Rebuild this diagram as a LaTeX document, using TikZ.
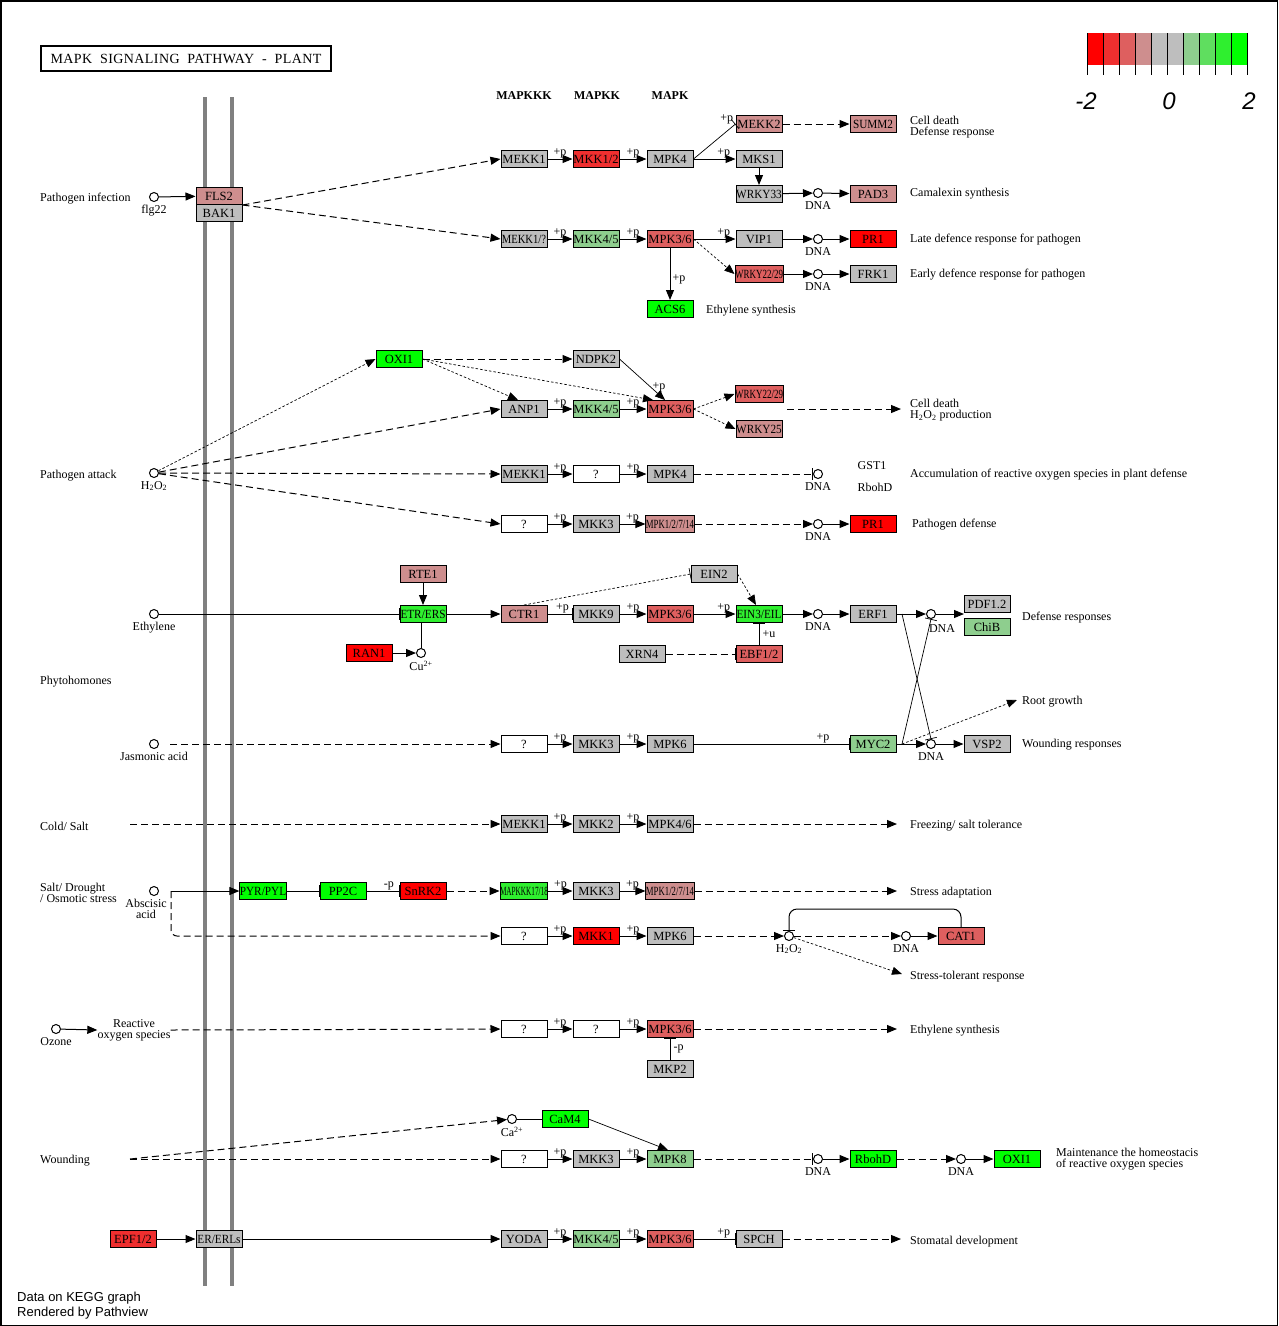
\documentclass[tikz,border=0pt]{standalone}
\usepackage{fontspec}
\usepackage{graphicx}
\setmainfont{Liberation Serif}
\newfontfamily\sansfont{Liberation Sans}
\newfontfamily\titlefont[LetterSpace=3,WordSpace=2]{Liberation Serif}
\usetikzlibrary{arrows.meta}
\definecolor{dnA}{RGB}{255,0,0}
\definecolor{dnB}{RGB}{239,47,47}
\definecolor{dnC}{RGB}{222,95,95}
\definecolor{dnD}{RGB}{206,142,142}
\definecolor{mid}{RGB}{190,190,190}
\definecolor{upD}{RGB}{142,206,142}
\definecolor{upC}{RGB}{95,222,95}
\definecolor{upB}{RGB}{47,239,47}
\definecolor{upA}{RGB}{0,255,0}
\definecolor{membrane}{RGB}{128,128,128}
\newcommand{\narrow}[2]{\scalebox{#1}[1]{#2}}
\newcommand{\hto}{H\textsubscript{2}O\textsubscript{2}}

\begin{document}
\begin{tikzpicture}[x=1pt,y=-1pt,
  every node/.style={font=\fontsize{12}{11}\selectfont, inner sep=0pt},
  gene/.style={draw, line width=1pt, fill=#1, minimum width=46, minimum height=17, font=\fontsize{12.5}{12}\selectfont},
  gene/.default=mid,
  cpd/.style={draw, line width=1pt, circle, fill=white, minimum size=9},
  dnalab/.style={label={[label distance=3pt]below:DNA}},
  txt/.style={anchor=west, align=left},
  plab/.style={above, pos=0.5},
  act/.style={line width=1pt, -{Triangle[length=10pt,width=8pt]}},
  inh/.style={line width=1pt, -{Bar[width=12pt]}},
  ind/.style={dash pattern=on 7pt off 4pt},
  fine/.style={dash pattern=on 2.5pt off 2pt, line width=0.7pt},
]
\useasboundingbox (0,0) rectangle (1278,1326);
\draw[line width=1.5pt] (0.75,0.75) rectangle (1277.25,1325.25);
\draw[membrane, line width=4pt] (205,97) -- (205,1286);
\draw[membrane, line width=4pt] (232,97) -- (232,1286);

\node[draw, line width=1.8pt, minimum width=290, minimum height=25, font=\titlefont\fontsize{14}{14}\selectfont] (title) at (186,58.5) {MAPK SIGNALING PATHWAY - PLANT};
\foreach \c [count=\i from 0] in {dnA,dnB,dnC,dnD,mid,mid,upD,upC,upB,upA}
  \fill[\c] (1087+16*\i,33) rectangle ++(16,32);
\foreach \i in {0,...,10}
  \draw[line width=1pt] (1087+16*\i,33) -- ++(0,42);
\node[font=\sansfont\itshape\fontsize{24}{24}\selectfont] (legmin) at (1086,101) {-2};
\node[font=\sansfont\itshape\fontsize{24}{24}\selectfont] (legmid) at (1169,101) {0};
\node[font=\sansfont\itshape\fontsize{24}{24}\selectfont] (legmax) at (1249,101) {2};

\node[font=\bfseries\fontsize{12}{12}\selectfont] (hkkk) at (524,96) {MAPKKK};
\node[font=\bfseries\fontsize{12}{12}\selectfont] (hkk) at (597,96) {MAPKK};
\node[font=\bfseries\fontsize{12}{12}\selectfont] (hk) at (670,96) {MAPK};

\node[txt] (pinf) at (40,199) {Pathogen infection};
\node[cpd, label={[label distance=3pt]below:flg22}] (flg) at (154,197) {};
\node[gene=dnD] (fls2) at (219,196) {FLS2};
\node[gene] (bak1) at (219,213) {BAK1};
\node[gene] (mekk1a) at (524,159) {MEKK1};
\node[gene=dnB] (mkk12) at (596,159) {MKK1/2};
\node[gene] (mpk4a) at (670,159) {MPK4};
\node[gene=dnD] (mekk2) at (759,124) {MEKK2};
\node[gene] (mks1) at (759,159) {MKS1};
\node[gene=dnD] (summ2) at (873,124) {\narrow{0.9}{SUMM2}};
\node[gene] (wrky33) at (759,194) {\narrow{0.9}{WRKY33}};
\node[cpd, dnalab] (dna1) at (818,193) {};
\node[gene=dnD] (pad3) at (873,194) {PAD3};
\node[gene] (mekk1b) at (524,239) {\narrow{0.85}{MEKK1/?}};
\node[gene=upD] (mkk45a) at (596,239) {MKK4/5};
\node[gene=dnC] (mpk36a) at (670,239) {MPK3/6};
\node[gene] (vip1) at (759,239) {VIP1};
\node[cpd, dnalab] (dna2) at (818,239) {};
\node[gene=dnA] (pr1a) at (873,239) {PR1};
\node[gene=dnC] (wrkyA) at (759,274) {\narrow{0.72}{WRKY22/29}};
\node[cpd, dnalab] (dna3) at (818,274) {};
\node[gene] (frk1) at (873,274) {FRK1};
\node[gene=upA] (acs6) at (670,309) {ACS6};
\node[txt] (celldeathA) at (910,127) {Cell death\\Defense response};
\node[txt] (camalexin) at (910,194) {Camalexin synthesis};
\node[txt] (latedef) at (910,240) {Late defence response for pathogen};
\node[txt] (earlydef) at (910,275) {Early defence response for pathogen};
\node[txt] (ethsynA) at (706,311) {Ethylene synthesis};

\node[txt] (patt) at (40,476) {Pathogen attack};
\node[cpd, label={[label distance=3pt]below:\hto}] (h2o2a) at (154,473) {};
\node[gene=upA] (oxi1a) at (399,359) {OXI1};
\node[gene] (ndpk2) at (596,359) {NDPK2};
\node[gene] (anp1) at (524,409) {ANP1};
\node[gene=upD] (mkk45b) at (596,409) {MKK4/5};
\node[gene=dnC] (mpk36b) at (670,409) {MPK3/6};
\node[gene=dnC] (wrkyB) at (759,394) {\narrow{0.72}{WRKY22/29}};
\node[gene=dnD] (wrky25) at (759,429) {\narrow{0.9}{WRKY25}};
\coordinate (cdA) at (787,409);
\coordinate (cdB) at (901,409);
\node[txt] (celldeathB) at (910,410) {Cell death\\\hto{} production};
\node[gene] (mekk1c) at (524,474) {MEKK1};
\node[gene=white] (qa) at (596,474) {?};
\node[gene] (mpk4b) at (670,474) {MPK4};
\node[cpd, dnalab] (dna4) at (818,474) {};
\node (gst1) at (872,466) {GST1};
\node (rbohdA) at (875,487) {RbohD};
\node[txt] (accum) at (910,475) {Accumulation of reactive oxygen species in plant defense};
\node[gene=white] (qb) at (524,524) {?};
\node[gene] (mkk3a) at (596,524) {MKK3};
\node[gene=dnD] (mpkA) at (670,524) {\narrow{0.7}{MPK1/2/7/14}};
\node[cpd, dnalab] (dna5) at (818,524) {};
\node[gene=dnA] (pr1b) at (873,524) {PR1};
\node[txt] (pdef) at (912,525) {Pathogen defense};

\node[cpd, label={[label distance=3pt]below:Ethylene}] (eth) at (154,614) {};
\node[gene=dnD] (rte1) at (423,574) {RTE1};
\node[gene=upB] (etr) at (423,614) {\narrow{0.9}{ETR/ERS}};
\node[gene=dnA] (ran1) at (369,653) {RAN1};
\node[cpd, label={[label distance=3pt]below:Cu\textsuperscript{2+}}] (cu) at (421,653) {};
\node[gene=dnD] (ctr1) at (524,614) {CTR1};
\node[gene] (mkk9) at (596,614) {MKK9};
\node[gene=dnC] (mpk36c) at (670,614) {MPK3/6};
\node[gene] (ein2) at (714,574) {EIN2};
\node[gene=upB] (ein3) at (759,614) {\narrow{0.9}{EIN3/EIL}};
\node[gene] (xrn4) at (642,654) {XRN4};
\node[gene=dnC] (ebf) at (759,654) {EBF1/2};
\node[cpd, dnalab] (dna6) at (818,614) {};
\node[gene] (erf1) at (873,614) {ERF1};
\coordinate (erfout) at (902,614);
\node[cpd] (dna7) at (931,614) {};
\node (dna7lab) at (942,629) {DNA};
\coordinate (pdfchib) at (964,614);
\node[gene] (pdf) at (987,604) {PDF1.2};
\node[gene=upD] (chib) at (987,627) {ChiB};
\node[txt] (defresp) at (1022,618) {Defense responses};
\node[txt] (phyto) at (40,682) {Phytohomones};

\node[cpd, label={[label distance=3pt]below:Jasmonic acid}] (ja) at (154,744) {};
\coordinate (jaout) at (170,744);
\node[gene=white] (qc) at (524,744) {?};
\node[gene] (mkk3b) at (596,744) {MKK3};
\node[gene] (mpk6a) at (670,744) {MPK6};
\node[gene=upD] (myc2) at (873,744) {MYC2};
\coordinate (mycout) at (902,744);
\node[cpd, dnalab] (dna8) at (931,744) {};
\node[gene] (vsp2) at (987,744) {VSP2};
\coordinate (rg) at (1017,700);
\node[txt] (rootg) at (1022,702) {Root growth};
\node[txt] (woundr) at (1022,745) {Wounding responses};

\node[txt] (cold) at (40,826) {Cold/ Salt};
\coordinate (coldout) at (130,824);
\node[gene] (mekk1d) at (524,824) {MEKK1};
\node[gene] (mkk2) at (596,824) {MKK2};
\node[gene] (mpk46) at (670,824) {MPK4/6};
\coordinate (frz) at (897,824);
\node[txt] (freeze) at (910,826) {Freezing/ salt tolerance};

\node[txt] (salt) at (40,893) {Salt/ Drought\\/ Osmotic stress};
\node[cpd, label={[label distance=3pt, xshift=-8pt, align=center]below:{Abscisic\\acid}}] (aba) at (154,891) {};
\coordinate (abaout) at (171,891);
\node[gene=upA] (pyr) at (263,891) {\narrow{0.9}{PYR/PYL}};
\node[gene=upA] (pp2c) at (343,891) {PP2C};
\node[gene=dnA] (snrk2) at (423,891) {SnRK2};
\node[gene=upB] (mapkkk) at (524,891) {\narrow{0.58}{MAPKKK17/18}};
\node[gene] (mkk3c) at (596,891) {MKK3};
\node[gene=dnD] (mpkB) at (670,891) {\narrow{0.7}{MPK1/2/7/14}};
\coordinate (sa) at (897,891);
\node[txt] (stradapt) at (910,893) {Stress adaptation};
\node[gene=white] (qd) at (524,936) {?};
\node[gene=dnA] (mkk1) at (596,936) {MKK1};
\node[gene] (mpk6b) at (670,936) {MPK6};
\node[cpd, label={[label distance=3pt]below:\hto}] (h2o2b) at (789,936) {};
\node[cpd, dnalab] (dna9) at (906,936) {};
\node[gene=dnC] (cat1) at (961,936) {CAT1};
\coordinate (str) at (902,974);
\node[txt] (strtol) at (910,977) {Stress-tolerant response};

\node[cpd, label={[label distance=3pt]below:Ozone}] (ozone) at (56,1029) {};
\node[align=center] (ros) at (134,1030) {Reactive\\oxygen species};
\node[gene=white] (qe) at (524,1029) {?};
\node[gene=white] (qf) at (596,1029) {?};
\node[gene=dnC] (mpk36d) at (670,1029) {MPK3/6};
\node[gene] (mkp2) at (670,1069) {MKP2};
\coordinate (es) at (897,1029);
\node[txt] (ethsynB) at (910,1031) {Ethylene synthesis};

\node[txt] (wound) at (40,1161) {Wounding};
\coordinate (woundout) at (130,1159);
\node[cpd, label={[label distance=3pt]below:Ca\textsuperscript{2+}}] (ca) at (512,1119) {};
\node[gene=upA] (cam4) at (565,1119) {CaM4};
\node[gene=white] (qg) at (524,1159) {?};
\node[gene] (mkk3d) at (596,1159) {MKK3};
\node[gene=upD] (mpk8) at (670,1159) {MPK8};
\node[cpd, dnalab] (dna10) at (818,1159) {};
\node[gene=upA] (rbohdB) at (873,1159) {RbohD};
\node[cpd, dnalab] (dna11) at (961,1159) {};
\node[gene=upA] (oxi1b) at (1017,1159) {OXI1};
\node[txt] (homeo) at (1056,1159) {Maintenance the homeostacis\\of reactive oxygen species};

\node[gene=dnB] (epf) at (133,1239) {EPF1/2};
\node[gene] (erl) at (219,1239) {\narrow{0.9}{ER/ERLs}};
\node[gene] (yoda) at (524,1239) {YODA};
\node[gene=upD] (mkk45c) at (596,1239) {MKK4/5};
\node[gene=dnC] (mpk36e) at (670,1239) {MPK3/6};
\node[gene] (spch) at (759,1239) {SPCH};
\coordinate (sd) at (901,1239);
\node[txt] (stomatal) at (910,1242) {Stomatal development};

\node[txt, font=\sansfont\fontsize{13}{15}\selectfont] (credit) at (17,1306) {Data on KEGG graph\\Rendered by Pathview};

\draw[act] (flg) -- (fls2);
\draw[act, ind] (fls2.south east) -- (mekk1a.west);
\draw[act, ind] (fls2.south east) -- (mekk1b.west);
\draw[act] (mekk1a) -- node[plab]{+p} (mkk12);
\draw[act] (mkk12) -- node[plab]{+p} (mpk4a);
\draw[act] (mpk4a) -- node[plab, pos=0.72]{+p} (mks1);
\draw[inh, line width=0.7pt] (mpk4a.east) -- node[pos=1, anchor=south east, xshift=-2pt]{+p} (mekk2.west);
\draw[act, ind] (mekk2) -- (summ2);
\draw[act] (mks1) -- (wrky33);
\draw[act] (wrky33) -- (dna1);
\draw[act] (dna1) -- (pad3);
\draw[act] (mekk1b) -- node[plab]{+p} (mkk45a);
\draw[act] (mkk45a) -- node[plab]{+p} (mpk36a);
\draw[act] (mpk36a) -- node[plab, pos=0.72]{+p} (vip1);
\draw[act, fine] (mpk36a.east) -- (wrkyA.west);
\draw[act] (mpk36a) -- node[right=2pt, pos=0.6]{+p} (acs6);
\draw[act] (vip1) -- (dna2);
\draw[act] (dna2) -- (pr1a);
\draw[act] (wrkyA) -- (dna3);
\draw[act] (dna3) -- (frk1);

\draw[act, fine] (h2o2a) -- (oxi1a.west);
\draw[act, ind] (h2o2a) -- (anp1.west);
\draw[act, ind] (h2o2a) -- (mekk1c.west);
\draw[act, ind] (h2o2a) -- (qb.west);
\draw[act, ind] (oxi1a) -- (ndpk2);
\draw[act, fine] (oxi1a.east) -- ([xshift=-6pt]anp1.north);
\draw[act, fine] (oxi1a.east) -- ([xshift=-17pt]mpk36b.north);
\draw[act, line width=0.7pt] (ndpk2.east) -- node[pos=0.7, right=1pt]{+p} ([xshift=-5pt]mpk36b.north);
\draw[act] (anp1) -- node[plab]{+p} (mkk45b);
\draw[act] (mkk45b) -- node[plab]{+p} (mpk36b);
\draw[act, fine] (mpk36b.east) -- (wrkyB.west);
\draw[act, fine] (mpk36b.east) -- (wrky25.west);
\draw[act, ind] (cdA) -- (cdB);
\draw[act] (mekk1c) -- node[plab]{+p} (qa);
\draw[act] (qa) -- node[plab]{+p} (mpk4b);
\draw[inh, ind] (mpk4b) -- (dna4);
\draw[act] (qb) -- node[plab]{+p} (mkk3a);
\draw[act] (mkk3a) -- node[plab]{+p} (mpkA);
\draw[act, ind] (mpkA) -- (dna5);
\draw[act] (dna5) -- (pr1b);

\draw[inh] (eth) -- (etr);
\draw[act] (rte1) -- (etr);
\draw[line width=1pt] (cu |- etr.south) -- (cu);
\draw[act] (ran1) -- (cu);
\draw[act] (etr) -- (ctr1);
\draw[inh] (ctr1) -- node[plab, pos=0.6]{+p} (mkk9);
\draw[act] (mkk9) -- node[plab]{+p} (mpk36c);
\draw[act] (mpk36c) -- node[plab, pos=0.72]{+p} (ein3);
\draw[inh, fine] (ctr1.north) -- (ein2.west);
\draw[act, fine] (ein2.east) -- ([xshift=-3pt]ein3.north);
\draw[inh, ind] (xrn4) -- (ebf);
\draw[inh] (ebf) -- node[right=3pt]{+u} (ein3);
\draw[act] (ein3) -- (dna6);
\draw[act] (dna6) -- (erf1);
\draw[line width=1pt] (erf1) -- (erfout);
\draw[act] (erfout) -- (dna7);
\draw[act] (dna7) -- (pdfchib);
\draw[inh, line width=0.7pt] (erfout) -- (dna8.north);
\draw[inh, line width=0.7pt] (mycout) -- (dna7.south);

\draw[act, ind] (jaout) -- (qc);
\draw[act] (qc) -- node[plab]{+p} (mkk3b);
\draw[act] (mkk3b) -- node[plab]{+p} (mpk6a);
\draw[inh] (mpk6a) -- node[plab, pos=0.83]{+p} (myc2);
\draw[line width=1pt] (myc2) -- (mycout);
\draw[act] (mycout) -- (dna8);
\draw[act] (dna8) -- (vsp2);
\draw[act, fine] (mycout) -- (rg);

\draw[act, ind] (coldout) -- (mekk1d);
\draw[act] (mekk1d) -- node[plab]{+p} (mkk2);
\draw[act] (mkk2) -- node[plab]{+p} (mpk46);
\draw[act, ind] (mpk46) -- (frz);

\draw[act] (abaout) -- (pyr);
\draw[act, ind, rounded corners=6pt] (abaout) |- (qd.west);
\draw[inh] (pyr) -- (pp2c);
\draw[inh] (pp2c) -- node[plab, pos=0.68]{-p} (snrk2);
\draw[act, ind] (snrk2) -- (mapkkk);
\draw[act] (mapkkk) -- node[plab]{+p} (mkk3c);
\draw[act] (mkk3c) -- node[plab]{+p} (mpkB);
\draw[act, ind] (mpkB) -- (sa);
\draw[act] (qd) -- node[plab]{+p} (mkk1);
\draw[act] (mkk1) -- node[plab]{+p} (mpk6b);
\draw[act, ind] (mpk6b) -- (h2o2b);
\draw[act, ind] (h2o2b) -- (dna9);
\draw[act] (dna9) -- (cat1);
\draw[inh, rounded corners=8pt] (cat1.north) -- ++(0,-18) -| (h2o2b.north);
\draw[act, fine] (h2o2b) -- (str);

\draw[act] (ozone) -- (ros.west);
\draw[act, ind] (ros.east) -- (qe);
\draw[act] (qe) -- node[plab]{+p} (qf);
\draw[act] (qf) -- node[plab]{+p} (mpk36d);
\draw[act, ind] (mpk36d) -- (es);
\draw[inh] (mkp2) -- node[right=3pt]{-p} (mpk36d);

\draw[act, ind] (woundout) -- (ca);
\draw[act, ind] (woundout) -- (qg);
\draw[line width=1pt] (ca) -- (cam4);
\draw[act, line width=0.7pt] (cam4.east) -- ([xshift=-2pt]mpk8.north);
\draw[act] (qg) -- node[plab]{+p} (mkk3d);
\draw[act] (mkk3d) -- node[plab]{+p} (mpk8);
\draw[inh, ind] (mpk8) -- (dna10);
\draw[act] (dna10) -- (rbohdB);
\draw[act, ind] (rbohdB) -- (dna11);
\draw[act] (dna11) -- (oxi1b);

\draw[act] (epf) -- (erl);
\draw[act] (erl) -- (yoda);
\draw[act] (yoda) -- node[plab]{+p} (mkk45c);
\draw[act] (mkk45c) -- node[plab]{+p} (mpk36e);
\draw[inh] (mpk36e) -- node[plab, pos=0.72]{+p} (spch);
\draw[act, ind] (spch) -- (sd);
\end{tikzpicture}
\end{document}
